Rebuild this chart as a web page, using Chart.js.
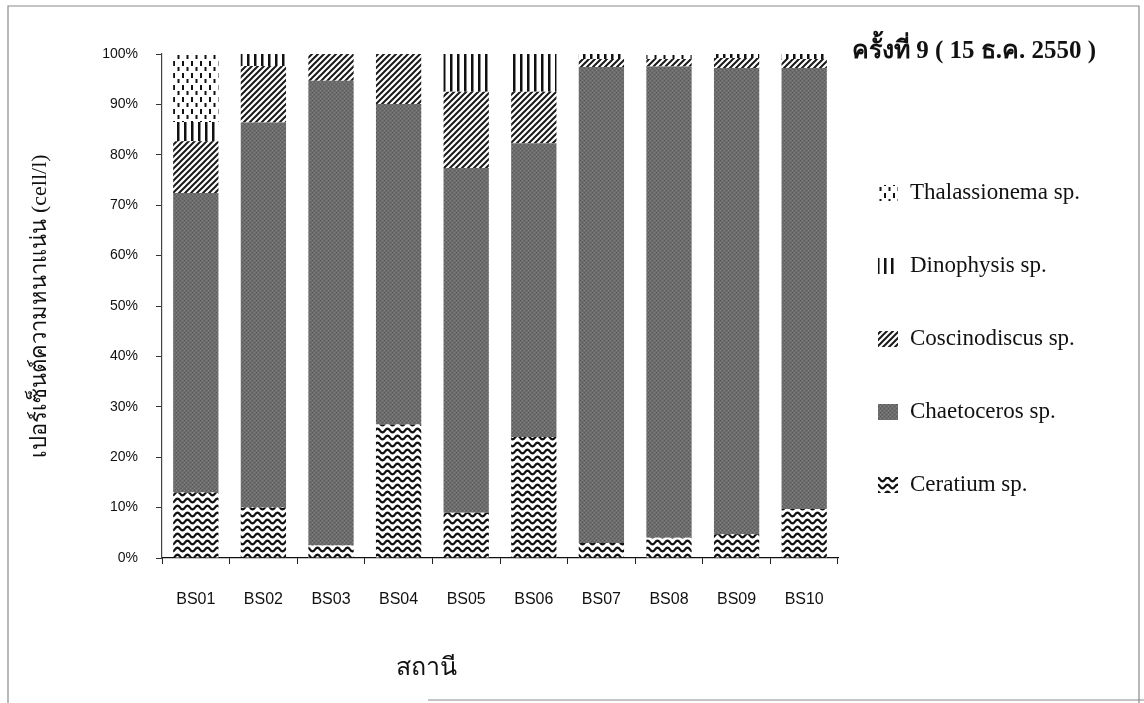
<!DOCTYPE html>
<html>
<head>
<meta charset="utf-8">
<script src="https://cdn.jsdelivr.net/npm/chart.js@4.4.1/dist/chart.umd.min.js"></script>
<style>
  html, body { margin: 0; padding: 0; background: #ffffff; }
  #wrap { width: 1144px; height: 703px; position: relative; }
  canvas { display: block; }
</style>
</head>
<body>
<div id="wrap"><canvas id="c" width="1144" height="703"></canvas></div>
<script>
// ---- data (percent of cell density per station) ----
const stations = ['BS01', 'BS02', 'BS03', 'BS04', 'BS05', 'BS06', 'BS07', 'BS08', 'BS09', 'BS10'];
const ceratium      = [13.0, 10.0,  2.5, 26.5,  9.0, 24.0,  3.0,  4.0,  4.7,  9.7];
const chaetoceros   = [59.4, 76.4, 92.2, 63.6, 68.4, 58.3, 94.4, 93.5, 92.5, 87.5];
const coscinodiscus = [10.3, 11.2,  5.3,  9.9, 15.1, 10.2,  1.6,  1.5,  2.0,  1.8];
const dinophysis    = [ 3.8,  2.4,  0.0,  0.0,  7.5,  7.5,  1.0,  0.0,  0.8,  1.0];
const thalassionema = [13.5,  0.0,  0.0,  0.0,  0.0,  0.0,  0.0,  1.0,  0.0,  0.0];
const yTicks = [0, 10, 20, 30, 40, 50, 60, 70, 80, 90, 100];
const chartTitle = 'ครั้งที่ 9 ( 15 ธ.ค. 2550 )';
const yTitle = 'เปอร์เซ็นต์ความหนาแน่น (cell/l)';
const xTitle = 'สถานี';

// ---- fill patterns ----
function makePattern(w, h, draw) {
  const cv = document.createElement('canvas');
  cv.width = w; cv.height = h;
  const g = cv.getContext('2d');
  draw(g, w, h);
  return g.createPattern(cv, 'repeat');
}
const ctx = document.getElementById('c').getContext('2d');

const patWave = makePattern(10, 7, (g, w, h) => {
  g.fillStyle = '#ffffff'; g.fillRect(0, 0, w, h);
  g.strokeStyle = '#111111'; g.lineWidth = 2.2;
  g.beginPath();
  for (let x = -1; x <= w + 1; x += 0.5) {
    const y = 3.5 + 1.9 * Math.sin((x / w) * Math.PI * 2);
    if (x === -1) g.moveTo(x, y); else g.lineTo(x, y);
  }
  g.stroke();
});
const patGray = makePattern(4, 4, (g, w, h) => {
  g.fillStyle = '#6c6c6c'; g.fillRect(0, 0, w, h);
  g.fillStyle = '#5a5a5a'; g.fillRect(0, 0, 1, 1); g.fillRect(2, 2, 1, 1);
  g.fillStyle = '#828282'; g.fillRect(2, 0, 1, 1); g.fillRect(0, 2, 1, 1);
});
const patDiag = makePattern(6, 6, (g, w, h) => {
  g.fillStyle = '#ffffff'; g.fillRect(0, 0, w, h);
  g.strokeStyle = '#1a1a1a'; g.lineWidth = 2;
  g.beginPath();
  for (let k = -1; k <= 1; k++) {
    g.moveTo(-1 + k * w, h + 1); g.lineTo(w + 1 + k * w, -1);
  }
  g.stroke();
});
const patVert = makePattern(7, 4, (g, w, h) => {
  g.fillStyle = '#ffffff'; g.fillRect(0, 0, w, h);
  g.fillStyle = '#111111'; g.fillRect(2, 0, 2.5, h);
});
const patDots = makePattern(9, 12, (g, w, h) => {
  g.fillStyle = '#ffffff'; g.fillRect(0, 0, w, h);
  g.fillStyle = '#111111';
  g.fillRect(2, 1, 2, 5);
  g.fillRect(6.5, 7, 2, 4);
});

const serif = '"Liberation Serif", "DejaVu Serif", serif';
const sans = '"Liberation Sans", Arial, sans-serif';

// ---- custom drawing: legend, titles, frame ----
const decor = {
  id: 'decor',
  afterDraw(chart) {
    const g = chart.ctx;
    g.save();
    // frame
    g.strokeStyle = '#8a8a8a'; g.lineWidth = 1.2;
    g.beginPath();
    g.moveTo(8, 703); g.lineTo(8, 6); g.lineTo(1139, 6); g.lineTo(1139, 703);
    g.moveTo(428, 700); g.lineTo(1144, 700);
    g.stroke();

    // title
    g.fillStyle = '#111111';
    g.font = 'bold 25px ' + serif;
    g.textAlign = 'left'; g.textBaseline = 'middle';
    g.fillText(chartTitle, 852, 52);

    // legend (reverse dataset order)
    const ds = chart.data.datasets.slice().reverse();
    const y0 = 193, dy = 73;
    g.font = '23px ' + serif;
    ds.forEach((d, i) => {
      const y = y0 + i * dy;
      g.fillStyle = d.backgroundColor;
      g.fillRect(878, y - 8, 20, 16);
      g.fillStyle = '#111111';
      g.fillText(d.label, 910, y);
    });

    // x axis title
    g.font = '25px ' + serif;
    g.textAlign = 'center';
    g.fillText(xTitle, 426, 668);
    g.restore();
  }
};

new Chart(ctx, {
  type: 'bar',
  data: {
    labels: stations,
    datasets: [
      { label: 'Ceratium sp.',      data: ceratium,      backgroundColor: patWave },
      { label: 'Chaetoceros sp.',   data: chaetoceros,   backgroundColor: patGray },
      { label: 'Coscinodiscus sp.', data: coscinodiscus, backgroundColor: patDiag },
      { label: 'Dinophysis sp.',    data: dinophysis,    backgroundColor: patVert },
      { label: 'Thalassionema sp.', data: thalassionema, backgroundColor: patDots }
    ]
  },
  options: {
    responsive: false,
    animation: false,
    devicePixelRatio: 1,
    layout: { padding: { left: 0, right: 306, top: 54, bottom: 0 } },
    datasets: { bar: { categoryPercentage: 1.0, barPercentage: 0.67, borderWidth: 0 } },
    plugins: { legend: { display: false }, tooltip: { enabled: false }, title: { display: false } },
    scales: {
      x: {
        stacked: true,
        grid: { display: true, drawOnChartArea: false, drawTicks: true, tickLength: 6, color: '#222222', offset: true },
        border: { display: true, color: '#111111', width: 1.2 },
        ticks: { color: '#111111', font: { family: sans, size: 16 }, padding: 26, maxRotation: 0 },
        afterFit(s) { s.height = 145; }
      },
      y: {
        stacked: true,
        min: 0, max: 100,
        afterBuildTicks(s) { s.ticks = yTicks.map(v => ({ value: v })); },
        grid: { display: true, drawOnChartArea: false, drawTicks: true, tickLength: 6, color: '#333333' },
        border: { display: true, color: '#444444', width: 1.2 },
        ticks: { color: '#111111', font: { family: sans, size: 14 }, padding: 18, callback: v => v + '%' },
        title: { display: true, text: yTitle, color: '#111111', font: { family: serif, size: 22 }, padding: { top: 27, bottom: 0 } },
        afterFit(s) { s.width = 162; }
      }
    }
  },
  plugins: [decor]
});
</script>
</body>
</html>
